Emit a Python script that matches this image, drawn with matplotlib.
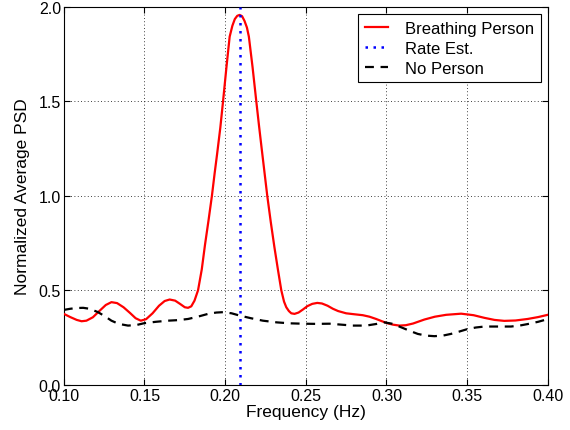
import matplotlib
matplotlib.use("Agg")
import matplotlib.pyplot as plt

# values
red_f = [0.100, 0.104, 0.108, 0.111, 0.114, 0.118, 0.122, 0.126, 0.1295, 0.133,
         0.137, 0.141, 0.1445, 0.1477, 0.151, 0.155, 0.159, 0.1625, 0.1656, 0.169,
         0.172, 0.175, 0.177, 0.179, 0.181, 0.1832, 0.1855, 0.1875, 0.1897, 0.1918,
         0.1935, 0.195, 0.197, 0.1987, 0.2008, 0.2028, 0.2045, 0.206, 0.2075, 0.209,
         0.2105, 0.212, 0.2135, 0.2147, 0.217, 0.2193, 0.221, 0.2225, 0.2243, 0.2261,
         0.2283, 0.2305, 0.2327, 0.2348, 0.2365, 0.2379, 0.2395, 0.241, 0.243, 0.2455,
         0.2482, 0.251, 0.254, 0.2571, 0.260, 0.2635, 0.2668, 0.270, 0.275, 0.280,
         0.2853, 0.2895, 0.2936, 0.2975, 0.3008, 0.304, 0.308, 0.312, 0.3165, 0.3235,
         0.330, 0.337, 0.3463, 0.354, 0.3607, 0.367, 0.373, 0.380, 0.3875, 0.394,
         0.399, 0.400]
red_v = [0.375, 0.358, 0.343, 0.336, 0.339, 0.357, 0.390, 0.422, 0.437, 0.432,
         0.410, 0.380, 0.352, 0.339, 0.347, 0.378, 0.418, 0.443, 0.451, 0.445,
         0.428, 0.410, 0.407, 0.415, 0.445, 0.500, 0.610, 0.740, 0.870, 1.000,
         1.120, 1.220, 1.360, 1.500, 1.680, 1.842, 1.900, 1.935, 1.952, 1.957,
         1.950, 1.925, 1.890, 1.842, 1.680, 1.500, 1.370, 1.260, 1.130, 1.000,
         0.860, 0.730, 0.610, 0.500, 0.440, 0.410, 0.390, 0.378, 0.375, 0.382,
         0.398, 0.416, 0.428, 0.433, 0.430, 0.418, 0.402, 0.390, 0.378, 0.373,
         0.368, 0.360, 0.348, 0.335, 0.325, 0.318, 0.313, 0.315, 0.324, 0.345,
         0.360, 0.370, 0.376, 0.368, 0.354, 0.343, 0.338, 0.340, 0.348, 0.358,
         0.368, 0.370]

black_f = [0.100, 0.104, 0.108, 0.112, 0.116, 0.1212, 0.1255, 0.1295, 0.134, 0.1398,
           0.145, 0.150, 0.157, 0.1646, 0.171, 0.177, 0.183, 0.1894, 0.1945, 0.1987,
           0.204, 0.209, 0.216, 0.2234, 0.232, 0.240, 0.2482, 0.2565, 0.2647, 0.272,
           0.2791, 0.2874, 0.294, 0.2988, 0.304, 0.3091, 0.3145, 0.3194, 0.3245, 0.3297,
           0.335, 0.340, 0.345, 0.3504, 0.3555, 0.3607, 0.369, 0.3772, 0.3825, 0.3875,
           0.394, 0.399, 0.400]
black_v = [0.396, 0.402, 0.406, 0.407, 0.402, 0.384, 0.362, 0.339, 0.322, 0.313,
           0.316, 0.326, 0.333, 0.339, 0.342, 0.348, 0.360, 0.375, 0.382, 0.384,
           0.378, 0.366, 0.352, 0.339, 0.330, 0.325, 0.323, 0.322, 0.323, 0.318,
           0.313, 0.313, 0.322, 0.330, 0.322, 0.304, 0.285, 0.269, 0.260, 0.257,
           0.260, 0.269, 0.281, 0.295, 0.303, 0.308, 0.308, 0.308, 0.313, 0.321,
           0.333, 0.345, 0.347]

rate_est = 0.209
x_ticks = [0.10, 0.15, 0.20, 0.25, 0.30, 0.35, 0.40]
y_ticks = [0.0, 0.5, 1.0, 1.5, 2.0]

plt.rcParams['font.family'] = ['Liberation Sans', 'DejaVu Sans']

fig = plt.figure(figsize=(5.7, 4.31), dpi=100)
ax = fig.add_axes([0.112, 0.105, 0.849, 0.877])

ax.plot(red_f, red_v, color='red', lw=1.6, label='Breathing Person', zorder=3)
ax.plot([rate_est, rate_est], [y_ticks[0], y_ticks[-1]], color='blue', lw=1.8,
        ls=(0, (1, 2.2)), label='Rate Est.', zorder=4)
ax.plot(black_f, black_v, color='black', lw=1.6, ls=(0, (4, 3)), label='No Person', zorder=3)

ax.set_xlim(0.10, 0.40)
ax.set_ylim(0.0, 2.0)
ax.set_xticks(x_ticks)
ax.set_yticks(y_ticks)
ax.set_xticklabels(['%.2f' % t for t in x_ticks])
ax.set_yticklabels(['%.1f' % t for t in y_ticks])
ax.tick_params(direction='in', top=True, right=True, labelsize=11.5, length=4, width=0.8, pad=2)
ax.grid(True, color='black', ls=(0, (1, 3)), lw=0.6)
for s in ax.spines.values():
    s.set_linewidth(0.8)

ax.set_xlabel('Frequency (Hz)', fontsize=12.5, labelpad=1)
ax.set_ylabel('Normalized Average PSD', fontsize=12.5, labelpad=6)

# MATLAB-style legend box
leg = ax.legend(loc='upper right', bbox_to_anchor=(0.985, 0.981), borderaxespad=0,
                fontsize=12, fancybox=False, framealpha=1, edgecolor='black',
                handlelength=1.4, handletextpad=1.0, labelspacing=0.3, borderpad=0.4)
leg.get_frame().set_linewidth(0.8)

fig.savefig('out.png', dpi=100)
